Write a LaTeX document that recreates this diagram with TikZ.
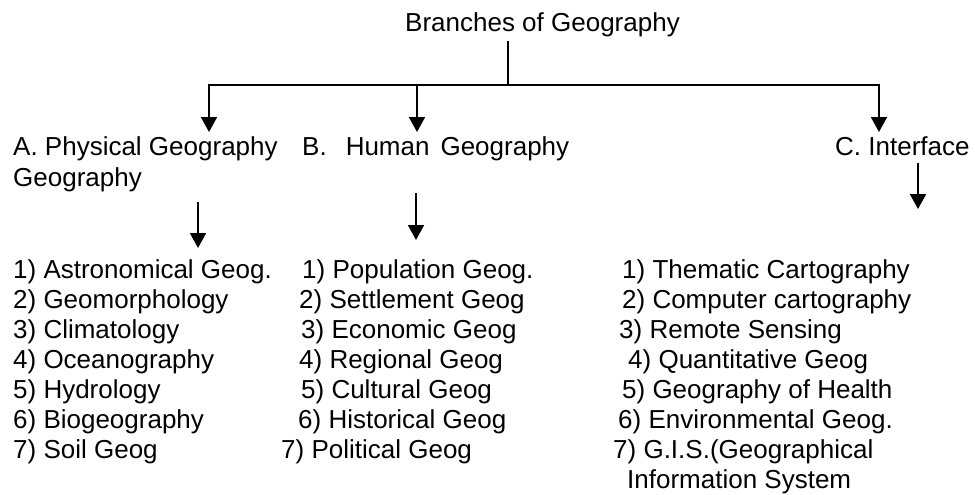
\documentclass[tikz,border=0pt]{standalone}
\usepackage{fontspec}
\setmainfont{Liberation Sans}
\usetikzlibrary{arrows.meta}
\begin{document}
\begin{tikzpicture}[x=1pt,y=-1pt,
  txt/.style={anchor=base west,inner sep=0pt,font=\fontsize{26}{30}\selectfont},
  conn/.style={line width=2pt,line join=miter},
  arr/.style={conn,-{Triangle[width=16pt,length=15pt]}}]
\useasboundingbox (0,0) rectangle (975,495);
% title
\node[txt] (title) at (405,32) {Branches of Geography};
% branch labels
\node[txt] (labA) at (13,155) {A. Physical Geography};
\node[txt] (labA2) at (13,186) {Geography};
\node[txt] (labB) at (302,155) {B.\hspace{19pt}Human\hspace{11pt}Geography};
\node[txt] (labC) at (835,155) {C. Interface};
% connector points
\coordinate (t0) at (508,41);
\coordinate (j) at (508,85);
\coordinate (jA) at (209,85);
\coordinate (jB) at (417,85);
\coordinate (jC) at (879,85);
\coordinate (aA) at (209,132);
\coordinate (aB) at (417,132);
\coordinate (aC) at (879,132);
\draw[conn] (t0) -- (j);
\draw[arr] (jB) -- (jA) -- (aA);
\draw[arr] (jB) -- (jC) -- (aC);
\draw[arr] (jB) -- (aB);
% second level arrows
\coordinate (sA0) at (198,202); \coordinate (sA1) at (198,248);
\coordinate (sB0) at (416,193); \coordinate (sB1) at (416,240);
\coordinate (sC0) at (918,163); \coordinate (sC1) at (918,209);
\draw[arr] (sA0) -- (sA1);
\draw[arr] (sB0) -- (sB1);
\draw[arr] (sC0) -- (sC1);
% column A
\node[txt] (a1) at (13,278) {1) Astronomical Geog.};
\node[txt] (a2) at (13,308) {2) Geomorphology};
\node[txt] (a3) at (13,338) {3) Climatology};
\node[txt] (a4) at (13,368) {4) Oceanography};
\node[txt] (a5) at (13,398) {5) Hydrology};
\node[txt] (a6) at (13,428) {6) Biogeography};
\node[txt] (a7) at (13,458) {7) Soil Geog};
% column B
\node[txt] (b1) at (302,278) {1) Population Geog.};
\node[txt] (b2) at (299,308) {2) Settlement Geog};
\node[txt] (b3) at (301,338) {3) Economic Geog};
\node[txt] (b4) at (299,368) {4) Regional Geog};
\node[txt] (b5) at (301,398) {5) Cultural Geog};
\node[txt] (b6) at (298,428) {6) Historical Geog};
\node[txt] (b7) at (281,458) {7) Political Geog};
% column C
\node[txt] (c1) at (622,278) {1) Thematic Cartography};
\node[txt] (c2) at (622,308) {2) Computer cartography};
\node[txt] (c3) at (619,338) {3) Remote Sensing};
\node[txt] (c4) at (628,368) {4) Quantitative Geog};
\node[txt] (c5) at (622,398) {5) Geography of Health};
\node[txt] (c6) at (618,428) {6) Environmental Geog.};
\node[txt] (c7) at (613,458) {7) G.I.S.(Geographical};
\node[txt] (c8) at (627,488) {Information System};
\end{tikzpicture}
\end{document}
